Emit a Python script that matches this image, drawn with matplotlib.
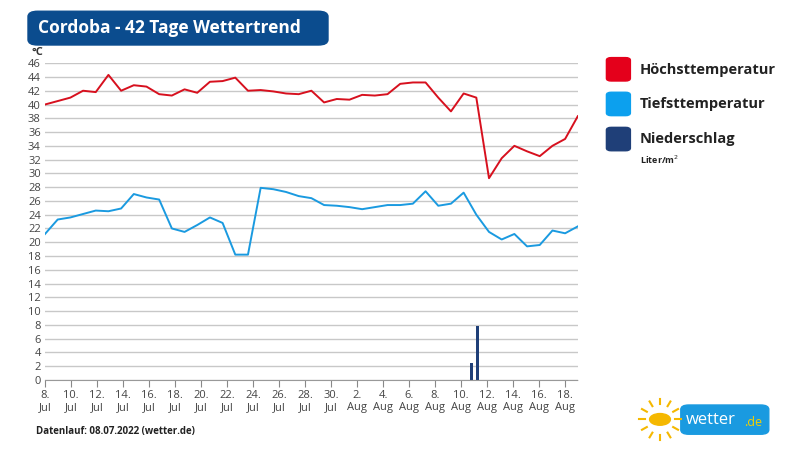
import matplotlib
matplotlib.use("Agg")
import matplotlib.pyplot as plt
import numpy as np
from matplotlib.patches import FancyBboxPatch, Circle

days = np.arange(43)
tmax = [40.0, 40.5, 41.0, 42.0, 41.8, 44.3, 42.0, 42.8, 42.6, 41.5, 41.3, 42.2, 41.7, 43.3, 43.4, 43.9,
        42.0, 42.1, 41.9, 41.6, 41.5, 42.0, 40.3, 40.8, 40.7, 41.4, 41.3, 41.5, 43.0, 43.2, 43.2, 41.0,
        39.0, 41.6, 41.0, 29.3, 32.2, 34.0, 33.2, 32.5, 34.0, 35.0, 38.3]
tmin = [21.2, 23.3, 23.6, 24.1, 24.6, 24.5, 24.9, 27.0, 26.5, 26.2, 22.0, 21.5, 22.5, 23.6, 22.8, 18.2,
        18.2, 27.9, 27.7, 27.3, 26.7, 26.4, 25.4, 25.3, 25.1, 24.8, 25.1, 25.4, 25.4, 25.6, 27.4, 25.3,
        25.6, 27.2, 24.0, 21.5, 20.4, 21.2, 19.4, 19.6, 21.7, 21.3, 22.3]
rain_x = [33.6, 34.1]
rain = [2.4, 7.8]
tick_labels = ["8.\nJul", "10.\nJul", "12.\nJul", "14.\nJul", "16.\nJul", "18.\nJul", "20.\nJul", "22.\nJul",
               "24.\nJul", "26.\nJul", "28.\nJul", "30.\nJul", "2.\nAug", "4.\nAug", "6.\nAug", "8.\nAug",
               "10.\nAug", "12.\nAug", "14.\nAug", "16.\nAug", "18.\nAug"]
tick_pos = np.arange(len(tick_labels)) * 41 / 20

plt.rcParams["font.family"] = "Open Sans"
fig = plt.figure(figsize=(8, 4.5), dpi=100)
ax = fig.add_axes([0.05625, 0.1556, 0.666, 0.704])
ax.set_xlim(0, 42)
ax.set_ylim(0, 46)
ax.set_yticks(range(0, 47, 2))
ax.grid(axis="y", color="#c8c8c8", lw=1)
ax.set_axisbelow(True)
for s in ["top", "right", "left"]:
    ax.spines[s].set_visible(False)
ax.spines["bottom"].set_linestyle((0, (2, 1)))
ax.spines["bottom"].set_color("#999999")
ax.tick_params(axis="y", length=0, labelsize=8, labelcolor="#444444", pad=3)
ax.tick_params(axis="x", length=5, color="#888888", labelsize=8, labelcolor="#444444", pad=2)
ax.set_xticks(tick_pos)
ax.set_xticklabels(tick_labels)
ax.plot(days, tmax, color="#d7101e", lw=1.4)
ax.plot(days, tmin, color="#1a9ae0", lw=1.4)
ax.bar(rain_x, rain, width=0.25, color="#1f3f78")
fig.text(0.04, 0.878, "°C", fontsize=8, fontweight="bold", color="#333333")

tb = FancyBboxPatch((0.035, 0.9), 0.375, 0.075, boxstyle="round,pad=0,rounding_size=0.012",
                    transform=fig.transFigure, color="#0b4c8e")
fig.patches.append(tb)
fig.text(0.048, 0.937, "Cordoba - 42 Tage Wettertrend", color="white", fontsize=12.5, fontweight="bold", va="center")

legend = [("Höchsttemperatur", "#e4001b", 0.845), ("Tiefsttemperatur", "#0ca0ee", 0.768), ("Niederschlag", "#1f3f78", 0.69)]
for name, c, y in legend:
    p = FancyBboxPatch((0.758, y - 0.025), 0.03, 0.052, boxstyle="round,pad=0,rounding_size=0.006",
                       transform=fig.transFigure, color=c)
    fig.patches.append(p)
    fig.text(0.8, y, name, fontsize=10.5, fontweight="bold", color="#222222", va="center")
fig.text(0.8, 0.645, "Liter/m$^2$", fontsize=6.5, fontweight="bold", color="#222222", va="center")

fig.text(0.045, 0.035, "Datenlauf: 08.07.2022 (wetter.de)", fontsize=7, fontweight="bold", color="#222222")

# logo
cx, cy = 0.825, 0.068
sun = Circle((cx, cy), 0.013, transform=fig.transFigure, color="#f5b800")
fig.patches.append(sun)
for a in np.linspace(0, 2 * np.pi, 12, endpoint=False):
    fig.add_artist(plt.Line2D([cx + 0.019 * np.cos(a), cx + 0.026 * np.cos(a)],
                              [cy + 0.034 * np.sin(a), cy + 0.046 * np.sin(a)],
                              transform=fig.transFigure, color="#f5b800", lw=1.5))
lb = FancyBboxPatch((0.851, 0.035), 0.11, 0.065, boxstyle="round,pad=0,rounding_size=0.01",
                    transform=fig.transFigure, color="#1a9ae0")
fig.patches.append(lb)
fig.text(0.857, 0.066, "wetter", color="white", fontsize=12, va="center")
fig.text(0.93, 0.062, ".de", color="#f5d000", fontsize=9, va="center")

fig.savefig("out.png", dpi=100)
